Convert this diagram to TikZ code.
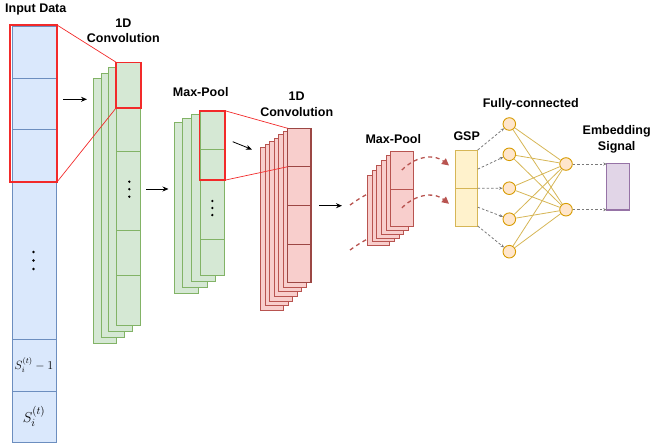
\documentclass[tikz,border=0pt]{standalone}
\usepackage[no-math]{fontspec}
\setmainfont{Liberation Sans}
\usetikzlibrary{arrows.meta}

\definecolor{inF}{HTML}{DAE8FC}\definecolor{inD}{HTML}{6C8EBF}
\definecolor{grF}{HTML}{D5E8D4}\definecolor{grD}{HTML}{82B366}
\definecolor{rdF}{HTML}{F8CECC}\definecolor{rdD}{HTML}{B85450}
\definecolor{yeF}{HTML}{FFF2CC}\definecolor{yeD}{HTML}{D6B656}
\definecolor{orF}{HTML}{FFE6CC}\definecolor{orD}{HTML}{D79B00}
\definecolor{puF}{HTML}{E1D5E7}\definecolor{puD}{HTML}{9673A6}
\definecolor{hlred}{HTML}{F22A2A}
\definecolor{dashgrey}{HTML}{7A7A7A}

\begin{document}
\begin{tikzpicture}[x=1pt,y=-1pt,
  box/.style={draw, inner sep=0pt, outer sep=0pt, anchor=north west, line width=0.9pt},
  inbox/.style={box, fill=inF, draw=inD},
  grbox/.style={box, fill=grF, draw=grD},
  rdbox/.style={box, fill=rdF, draw=rdD},
  rdfront/.style={box, fill=rdF, draw=rdD!85!black, line width=1.2pt},
  yebox/.style={box, fill=yeF, draw=yeD},
  pubox/.style={box, fill=puF, draw=puD, line width=1.2pt},
  grlayer/.style={fill=grF, draw=grD, line width=0.9pt},
  rdlayer/.style={fill=rdF, draw=rdD, line width=0.9pt},
  hl/.style={box, draw=hlred, line width=1.6pt},
  zoomline/.style={draw=hlred, line width=0.7pt},
  flow/.style={-{Stealth[length=6pt,width=5pt]}, line width=0.8pt},
  poolflow/.style={draw=rdD, dashed, dash pattern=on 4pt off 3.5pt, line width=1.3pt,
    -{Triangle[length=7pt,width=7pt]}},
  poolin/.style={draw=rdD, dashed, dash pattern=on 4pt off 3.5pt, line width=1.3pt},
  greyflow/.style={draw=dashgrey, dashed, dash pattern=on 2.5pt off 2pt, line width=0.8pt,
    -{Stealth[length=3.5pt,width=3pt]}},
  neuron/.style={circle, draw=orD, fill=orF, line width=0.9pt, minimum size=12.6pt, inner sep=0pt},
  wire/.style={draw=yeD, line width=0.8pt},
  title/.style={font=\bfseries\fontsize{12.5}{15.5}\selectfont, align=center, inner sep=0pt},
  dot/.style={fill=black, circle, inner sep=0pt, minimum size=2.6pt}
]
\useasboundingbox (0,0) rectangle (652,447);

% ---------------- input sequence ----------------
\node[inbox, minimum width=44pt, minimum height=52pt]  (in1) at (12,26) {};
\node[inbox, minimum width=44pt, minimum height=51pt]  (in2) at (12,78) {};
\node[inbox, minimum width=44pt, minimum height=52pt]  (in3) at (12,129) {};
\node[inbox, minimum width=44pt, minimum height=158pt] (in4) at (12,181) {};
\node[inbox, minimum width=44pt, minimum height=52pt]  (in5) at (12,339)
  {\fontsize{12}{12}\selectfont$S_i^{(t)}-1$};
\node[inbox, minimum width=44pt, minimum height=51pt]  (in6) at (12,391)
  {\fontsize{15}{15}\selectfont$S_i^{(t)}$};
\foreach \yy in {252,260.5,269} \node[dot] at (33.5,\yy) {};
\node[hl, minimum width=47pt, minimum height=157pt] (inhl) at (10,25) {};
\node[title] (tin) at (35.8,9.5) {Input Data};

% ---------------- first 1D convolution ----------------
\foreach \k in {3,2,1}
  \draw[grlayer] ({116.7-7.8*\k},{62.7+5.2*\k}) rectangle ++(23.3,{262.3+0.9*\k});
\node[grbox, minimum width=23.3pt, minimum height=45pt]   (ca1) at (116.7,62.7) {};
\node[grbox, minimum width=23.3pt, minimum height=43.3pt] (ca2) at (116.7,107.7) {};
\node[grbox, minimum width=23.3pt, minimum height=79pt]   (ca3) at (116.7,151) {};
\node[grbox, minimum width=23.3pt, minimum height=45.3pt] (ca4) at (116.7,230) {};
\node[grbox, minimum width=23.3pt, minimum height=49.7pt] (ca5) at (116.7,275.3) {};
\foreach \yy in {181.7,189.2,196.7} \node[dot] at (129.3,\yy) {};
\node[hl, minimum width=24.5pt, minimum height=45.5pt] (cahl) at (116.2,62.3) {};
\node[title] (tca) at (123.3,30.8) {1D\\Convolution};

\draw[zoomline] (inhl.north east) -- (cahl.north west);
\draw[zoomline] (inhl.south east) -- (cahl.south west);

\coordinate (a1s) at (63,99.3);  \coordinate (a1e) at (87,99.3);
\draw[flow] (a1s) -- (a1e);

% ---------------- first max-pool ----------------
\foreach \k in {3,2,1}
  \draw[grlayer] ({200-8.67*\k},{111+3.9*\k}) rectangle ++(24.3,{164+2.4*\k});
\node[grbox, minimum width=24.3pt, minimum height=38.3pt] (pa1) at (200,111) {};
\node[grbox, minimum width=24.3pt, minimum height=30.7pt] (pa2) at (200,149.3) {};
\node[grbox, minimum width=24.3pt, minimum height=59.3pt] (pa3) at (200,180) {};
\node[grbox, minimum width=24.3pt, minimum height=35.7pt] (pa4) at (200,239.3) {};
\foreach \yy in {201,208,215} \node[dot] at (212.3,\yy) {};
\node[hl, minimum width=25.3pt, minimum height=69.5pt] (pahl) at (199.5,110.7) {};
\node[title] (tpa) at (200.7,91.7) {Max-Pool};

\coordinate (a2s) at (146,189);  \coordinate (a2e) at (168.5,189);
\draw[flow] (a2s) -- (a2e);
\coordinate (a3s) at (232.7,141.7); \coordinate (a3e) at (252,149.5);
\draw[flow] (a3s) -- (a3e);

% ---------------- second 1D convolution ----------------
\foreach \k in {6,5,...,1}
  \draw[rdlayer] ({287.7-4.55*\k},{128.3+3.23*\k}) rectangle ++(23.3,{154+1.44*\k});
\node[rdfront, minimum width=23.3pt, minimum height=38.4pt] (cb1) at (287.7,128.3) {};
\node[rdfront, minimum width=23.3pt, minimum height=39pt]   (cb2) at (287.7,166.7) {};
\node[rdfront, minimum width=23.3pt, minimum height=38.6pt] (cb3) at (287.7,205.7) {};
\node[rdfront, minimum width=23.3pt, minimum height=38pt]   (cb4) at (287.7,244.3) {};
\node[title] (tcb) at (296.7,104.3) {1D\\Convolution};

\draw[zoomline] (pahl.north east) -- (cb1.north west);
\draw[zoomline] (pahl.south east) -- (cb1.south west);

\coordinate (a4s) at (319,205.7); \coordinate (a4e) at (342,205.7);
\draw[flow] (a4s) -- (a4e);

% ---------------- second max-pool ----------------
\coordinate (inA) at (350,205); \coordinate (inB) at (350,250);
\draw[poolin] (inA) .. controls (360,198) .. (382,186);
\draw[poolin] (inB) .. controls (360,243) .. (382,231);
\foreach \k in {5,4,...,1}
  \draw[rdlayer] ({390.7-4.67*\k},{151+4.8*\k}) rectangle ++(22.3,{75.7-1.0*\k});
\node[rdbox, minimum width=22.3pt, minimum height=38pt]   (pb1) at (390.7,151) {};
\node[rdbox, minimum width=22.3pt, minimum height=37.7pt] (pb2) at (390.7,189) {};
\node[title] (tpb) at (393.3,139.3) {Max-Pool};

% ---------------- global pooling ----------------
\node[yebox, minimum width=22.7pt, minimum height=38.3pt] (g1) at (455,150) {};
\node[yebox, minimum width=22.7pt, minimum height=37.7pt] (g2) at (455,188.3) {};
\node[title] (tg) at (466.7,136) {GSP};

\coordinate (tipA) at (449,165.5);
\coordinate (tipB) at (449,203.8);
\draw[poolflow] (pb1.center) .. controls (418,154) and (436,155) .. (tipA);
\draw[poolflow] (pb2.center) .. controls (418,192) and (436,193) .. (tipB);

% ---------------- fully-connected ----------------
\node[neuron] (n1) at (509.3,124) {};
\node[neuron] (n2) at (509.3,154.3) {};
\node[neuron] (n3) at (509.3,188.2) {};
\node[neuron] (n4) at (509.3,219.2) {};
\node[neuron] (n5) at (509.3,251.7) {};
\node[neuron] (m1) at (566,164) {};
\node[neuron] (m2) at (566,209.7) {};
\foreach \a in {n1,n2,n3,n4,n5}
  \foreach \b in {m1,m2}
    \draw[wire] (\a) -- (\b);
\node[title] (tfc) at (530.7,104) {Fully-connected};

\draw[greyflow] (g1.north east) -- (n1);
\draw[greyflow] (g1.east) -- (n2);
\draw[greyflow] (g1.south east) -- (n3);
\draw[greyflow] (g2.east) -- (n4);
\draw[greyflow] (g2.south east) -- (n5);

% ---------------- embedding ----------------
\node[pubox, minimum width=22.6pt, minimum height=46.7pt] (emb) at (606.7,163.3) {};
\node[title] (temb) at (616.7,139.5) {Embedding\\Signal};
\draw[greyflow] (m1) -- (m1 -| emb.west);
\draw[greyflow] (m2) -- (m2 -| emb.west);

\end{tikzpicture}
\end{document}
